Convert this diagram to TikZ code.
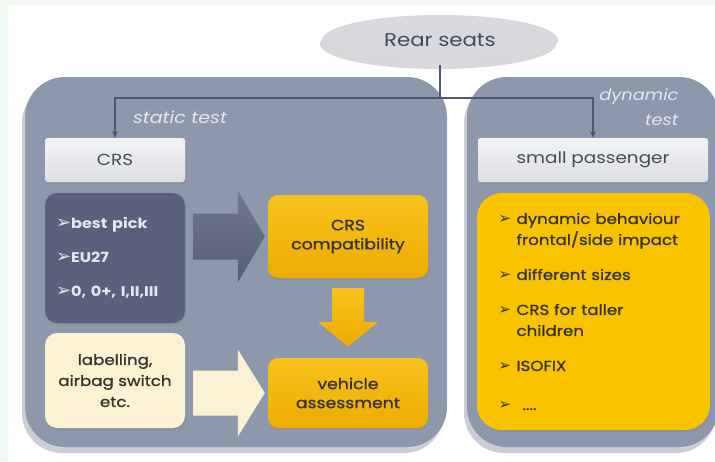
\documentclass[tikz,border=0pt]{standalone}
\usepackage{fontspec}
\setmainfont{Poppins}[FakeStretch=1.15]
\newfontfamily\medfont{Poppins}[FakeStretch=1.15,FakeBold=1.2]
\newfontfamily\sym{DejaVu Sans}
\usetikzlibrary{shapes.geometric,shadows,calc,arrows.meta}
\definecolor{bggreen}{HTML}{F2F8F2}
\definecolor{panelc}{HTML}{8E98AD}
\definecolor{haloc}{HTML}{CBCED5}
\definecolor{linec}{HTML}{4E5870}
\definecolor{darkbox}{HTML}{59627A}
\definecolor{goldtop}{HTML}{F7C21C}
\definecolor{goldbot}{HTML}{EDAC00}
\definecolor{dynyel}{HTML}{FAC300}
\definecolor{creamc}{HTML}{FBF2D4}
\definecolor{lgtop}{HTML}{F2F3F5}
\definecolor{lgbot}{HTML}{DCDEE3}
\definecolor{ellc}{HTML}{D7D9DF}
\definecolor{txtdark}{HTML}{35332B}
\definecolor{txtgray}{HTML}{454B58}
\definecolor{txtlight}{HTML}{E4E7EE}
\newcommand\blkarrowh[6]{%
  \path[#1] let \p1=#2, \p2=#3 in
    (\x1,{\y1+#4}) -- ({\x2-#6},{\y1+#4}) -- ({\x2-#6},{\y1+#5}) -- (\x2,\y1)
    -- ({\x2-#6},{\y1-#5}) -- ({\x2-#6},{\y1-#4}) -- (\x1,{\y1-#4}) -- cycle;}
\newcommand\blkarrowv[6]{%
  \path[#1] let \p1=#2, \p2=#3 in
    ({\x1+#4},\y1) -- ({\x1+#4},{\y2+#6}) -- ({\x1+#5},{\y2+#6}) -- (\x1,\y2)
    -- ({\x1-#5},{\y2+#6}) -- ({\x1-#4},{\y2+#6}) -- ({\x1-#4},\y1) -- cycle;}
\newcommand\itm[1]{\makebox[18pt][l]{\sym\fontsize{15}{12}\selectfont ➢}#1}
\newcommand\cnt[1]{\hspace*{18pt}#1}
\newcommand\dbul{{\sym\fontsize{18}{13}\selectfont ➢}}
\begin{document}
\begin{tikzpicture}[x=1pt,y=-1pt,
  panelbox/.style={draw=none,fill=panelc,rounded corners=40pt,inner sep=0pt,
    general shadow={fill=haloc,shadow xshift=-3pt,shadow yshift=-6pt}},
  labelbox/.style={fill=lgbot,top color=lgtop,bottom color=lgbot,rounded corners=3pt,inner sep=0pt,
    text=txtgray,font=\fontsize{16}{18}\selectfont,
    drop shadow={shadow xshift=1pt,shadow yshift=-2pt,opacity=0.35}},
  goldbox/.style={top color=goldtop,bottom color=goldbot,rounded corners=10pt,inner sep=0pt,
    align=center,text=txtdark,font=\medfont\fontsize{15}{19}\selectfont,
    drop shadow={shadow xshift=1pt,shadow yshift=-2pt,opacity=0.3}},
  conn/.style={draw=linec,line width=1.4pt},
  tip/.style={-{Stealth[length=7pt,width=6pt]}}
]
\useasboundingbox (0,0) rectangle (715,461);
\fill[bggreen] (0,0) rectangle (715,461);
\fill[white] (8,5) rectangle (715,461);

% panels
\node[panelbox,minimum width=422pt,minimum height=370pt] (leftp) at (236,262) {};
\node[panelbox,minimum width=252pt,minimum height=370pt] (rightp) at (593,262) {};

% ellipse
\node[ellipse,fill=ellc,minimum width=236pt,minimum height=50pt,inner sep=0pt,text=txtgray,
  font=\fontsize{18.5}{18}\selectfont,
  drop shadow={shadow xshift=-2pt,shadow yshift=-4pt,opacity=0.3}] (rear) at (440,40) {Rear seats};

% panel titles
\node[text=txtlight,font=\fontsize{16.5}{18}\selectfont\itshape] (stat) at (180,117) {static test};
\node[text=txtlight,font=\fontsize{15.5}{25}\selectfont\itshape,align=right,anchor=north east] (dynt) at (682,85) {dynamic\\test};

% header boxes
\node[labelbox,minimum width=140pt,minimum height=44pt] (crs) at (115,160) {CRS};
\node[labelbox,minimum width=230pt,minimum height=44pt] (sp) at (593,160) {small passenger};

% dark box
\node[fill=darkbox,rounded corners=12pt,minimum width=140pt,minimum height=130pt,inner sep=0pt,
  text width=118pt,align=left,text=txtlight,font=\fontsize{14}{34}\selectfont\bfseries,
  drop shadow={shadow xshift=1pt,shadow yshift=-2pt,opacity=0.3}] (dark) at (115,258)
  {\dbul best pick\\\dbul EU27\\\dbul 0, 0+, I,II,III};

% cream box
\node[fill=creamc,rounded corners=12pt,minimum width=140pt,minimum height=95pt,inner sep=0pt,
  align=center,text=txtdark,font=\medfont\fontsize{14.5}{21}\selectfont,
  drop shadow={shadow xshift=1pt,shadow yshift=-2pt,opacity=0.3}] (lab) at (115,380.5)
  {labelling,\\airbag switch\\etc.};

% gold boxes
\node[goldbox,minimum width=160pt,minimum height=83pt] (compat) at (348,236.5) {CRS\\compatibility};
\node[goldbox,minimum width=160pt,minimum height=70pt] (veh) at (348,393) {vehicle\\assessment};

% dynamic box
\node[fill=dynyel,rounded corners=25pt,minimum width=233pt,minimum height=237pt,inner sep=0pt,
  text width=190pt,align=left,text=txtdark,font=\medfont\fontsize{14.5}{21}\selectfont,
  drop shadow={shadow xshift=1pt,shadow yshift=-2pt,opacity=0.3}] (dyn) at (593.5,311.5)
  {\itm{dynamic behaviour}\\\cnt{frontal/side impact}\\[14pt]
   \itm{different sizes}\\[14pt]
   \itm{CRS for taller}\\\cnt{children}\\[14pt]
   \itm{ISOFIX}\\[18pt]
   \itm{\hspace{6pt}....}};

% block arrows
\coordinate (a1s) at ($(dark.east |- compat.west)+(8,0)$);
\coordinate (a1e) at ($(compat.west)+(-3,0)$);
\blkarrowh{top color=darkbox!85!white,bottom color=darkbox!95!black}{(a1s)}{(a1e)}{23pt}{46pt}{27pt}
\coordinate (a2s) at ($(lab.east |- veh.west)+(8,0)$);
\coordinate (a2e) at ($(veh.west)+(-3,0)$);
\blkarrowh{fill=creamc}{(a2s)}{(a2e)}{22.5pt}{43.5pt}{27pt}
\coordinate (a3s) at ($(compat.south)+(0,10)$);
\coordinate (a3e) at ($(veh.north)+(0,-11)$);
\blkarrowv{top color=goldtop,bottom color=goldbot}{(a3s)}{(a3e)}{16pt}{30pt}{25pt}

% connectors
\coordinate (junc) at (rear.south |- 0,98);
\draw[conn] (rear.south) -- (junc);
\draw[conn,tip] (junc) -| (crs.north);
\draw[conn,tip] (junc) -| (sp.north);
\end{tikzpicture}
\end{document}
